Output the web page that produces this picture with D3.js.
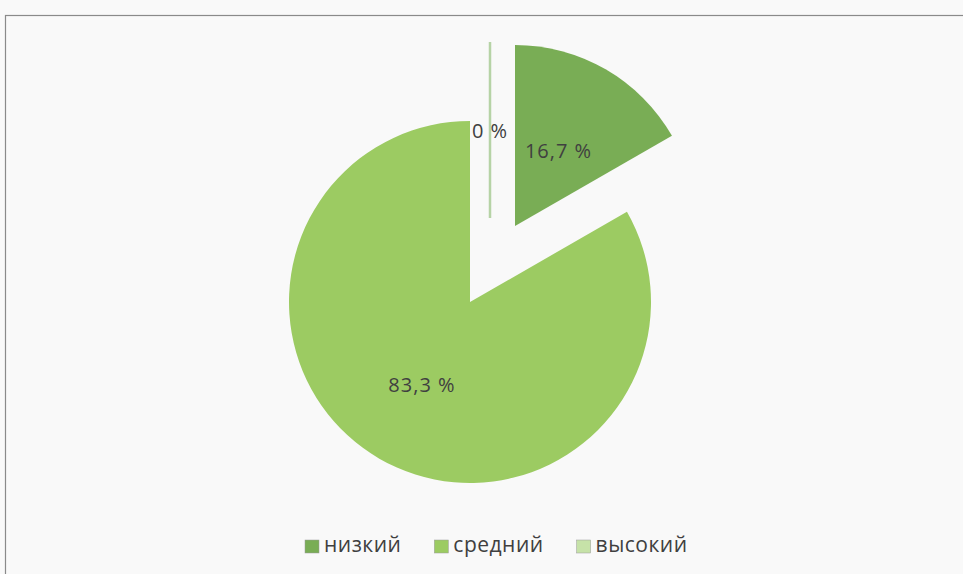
<!DOCTYPE html>
<html>
<head>
<meta charset="utf-8">
<script src="https://cdn.jsdelivr.net/npm/d3@7"></script>
<style>
  body { margin: 0; background: #f9f9f9; }
  svg { display: block; }
</style>
</head>
<body>
<svg width="963" height="574"></svg>
<script>
// levels and shares (percent)
let levels = ["низкий", "средний", "высокий"];
let shares = [16.7, 83.3, 0];
let labels = ["16,7 %", "83,3 %", "0 %"];

let colors = d3.scaleOrdinal()
  .domain(levels)
  .range(["#79ad55", "#9ccb62", "#c6e2a8"]);

let svg = d3.select("svg");

// chart frame
svg.append("rect")
  .attr("x", 5.5).attr("y", 15.5)
  .attr("width", 970).attr("height", 580)
  .style("fill", "none")
  .style("stroke", "#8a8a8a")
  .style("stroke-width", 1.2);

let cx = 470, cy = 302, r = 181;

let pie = d3.pie().sort(null).value(d => d.v);
let arc = d3.arc().innerRadius(0).outerRadius(r);

let data = levels.map((k, i) => ({k: k, v: shares[i], label: labels[i]}));
let slices = pie(data);

// exploded offsets (x, y) for each slice
let offsets = [[45, -76], [0, 0], [20, -84]];

let g = svg.append("g").attr("transform", `translate(${cx},${cy})`);

g.selectAll("g.slice")
  .data(slices)
  .join("g")
  .attr("class", "slice")
  .attr("transform", (d, i) => `translate(${offsets[i][0]},${offsets[i][1]})`)
  .each(function(d) {
    let s = d3.select(this);
    if (d.endAngle - d.startAngle > 0) {
      s.append("path")
        .attr("d", arc(d))
        .style("fill", colors(d.data.k));
    } else {
      // zero slice is just a thin line
      s.append("line")
        .attr("x1", 0).attr("y1", 0)
        .attr("x2", r * Math.sin(d.startAngle))
        .attr("y2", -r * Math.cos(d.startAngle) + 5)
        .style("stroke", "#b6d3a6")
        .style("stroke-width", 2.5);
    }
    let mid = (d.startAngle + d.endAngle) / 2;
    let lr = d.value > 50 ? r * 0.53 : r * 0.48;
    s.append("text")
      .attr("x", lr * Math.sin(mid))
      .attr("y", -lr * Math.cos(mid))
      .attr("dy", "0.35em")
      .attr("text-anchor", "middle")
      .style("font-family", "'Open Sans', sans-serif")
      .style("font-size", "20px")
      .style("letter-spacing", "1px")
      .style("fill", "#404040")
      .text(d.data.label);
  });

// legend, laid out left to right from measured text widths
let legend = svg.append("g").attr("transform", "translate(305,540)");
let lx = 0;
levels.forEach(k => {
  let item = legend.append("g").attr("transform", `translate(${lx},0)`);
  item.append("rect")
    .attr("width", 14).attr("height", 13)
    .style("fill", colors(k))
    .style("stroke", "#9a9a9a")
    .style("stroke-width", 0.5);
  let t = item.append("text")
    .attr("x", 19).attr("y", 12)
    .style("font-family", "'Open Sans', sans-serif")
    .style("font-size", "21px")
    .style("letter-spacing", "0.5px")
    .style("fill", "#404040")
    .text(k);
  lx += 19 + t.node().getComputedTextLength() + 33;
});
</script>
</body>
</html>
